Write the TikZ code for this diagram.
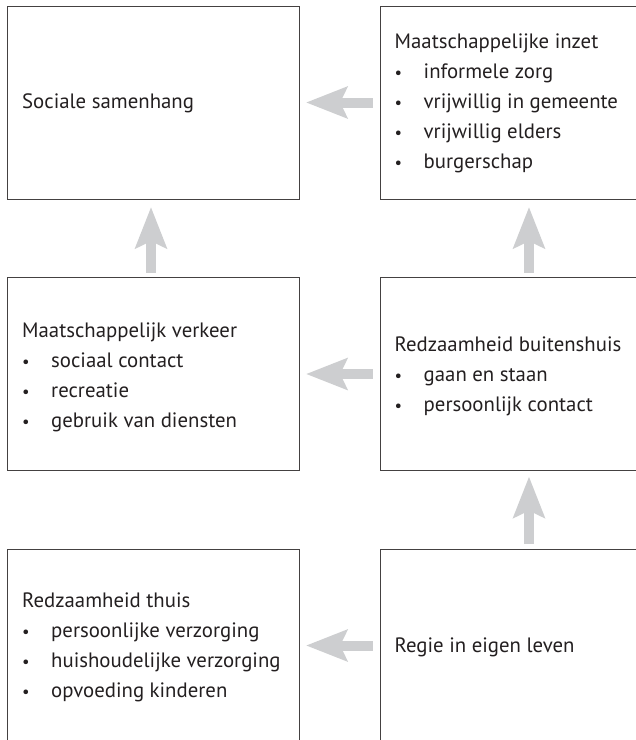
\documentclass[tikz,border=0pt]{standalone}
\usepackage{fontspec}
\usepackage{graphicx}
\setmainfont{PT Sans}
\usetikzlibrary{arrows.meta}
\definecolor{arrowgray}{RGB}{205,206,208}
\definecolor{ink}{RGB}{35,31,32}
\newcommand{\bitem}[1]{\makebox[29pt][l]{\scalebox{0.8}{\textbullet}}#1}
\begin{document}
\begin{tikzpicture}[x=1pt,y=-1pt,
  box/.style={draw=ink!85, line width=0.9pt, minimum width=292pt, minimum height=193pt, inner sep=0pt, outer sep=0pt, anchor=north west},
  txt/.style={anchor=west, align=left, inner sep=0pt, text=ink, font=\fontsize{20.8}{30}\selectfont},
  arr/.style={draw=arrowgray, line width=10pt, -{Stealth[length=41pt,width=31pt,inset=7pt]}}]
\useasboundingbox (0,0) rectangle (636,740);
\clip (0,0) rectangle (636,740);
\node[box] (A) at (7,6) {};
\node[box] (B) at (380.5,6) {};
\node[box] (C) at (7,277.5) {};
\node[box] (D) at (380.5,277.5) {};
\node[box] (E) at (7,549) {};
\node[box] (F) at (380.5,549) {};
\node[txt] (At) at ([xshift=15pt,yshift=-1pt]A.west) {Sociale samenhang};
\node[txt] (Bt) at ([xshift=14pt,yshift=-1pt]B.west) {Maatschappelijke inzet\\\bitem{informele zorg}\\\bitem{vrijwillig in gemeente}\\\bitem{vrijwillig elders}\\\bitem{burgerschap}};
\node[txt] (Ct) at ([xshift=15pt,yshift=-3pt]C.west) {Maatschappelijk verkeer\\\bitem{sociaal contact}\\\bitem{recreatie}\\\bitem{gebruik van diensten}};
\node[txt] (Dt) at ([xshift=14pt,yshift=-2pt]D.west) {Redzaamheid buitenshuis\\\bitem{gaan en staan}\\\bitem{persoonlijk contact}};
\node[txt] (Et) at ([xshift=15pt,yshift=-2pt]E.west) {Redzaamheid thuis\\\bitem{persoonlijke verzorging}\\\bitem{huishoudelijke verzorging}\\\bitem{opvoeding kinderen}};
\node[txt] (Ft) at ([xshift=14pt,yshift=-2pt]F.west) {Regie in eigen leven};
\coordinate (cA) at (A.south -| 151,0);
\coordinate (cC) at (C.north -| 151,0);
\coordinate (cB) at (B.south -| 529,0);
\coordinate (cD1) at (D.north -| 529,0);
\coordinate (cD2) at (D.south -| 529,0);
\coordinate (cF) at (F.north -| 529,0);
\draw[arr, shorten <=8pt, shorten >=7pt] (B.west) -- (A.east);
\draw[arr, shorten <=8pt, shorten >=7pt] (D.west) -- (C.east);
\draw[arr, shorten <=8pt, shorten >=7pt] (F.west) -- (E.east);
\draw[arr, shorten <=5pt, shorten >=8pt] (cC) -- (cA);
\draw[arr, shorten <=5pt, shorten >=8pt] (cD1) -- (cB);
\draw[arr, shorten <=5pt, shorten >=6pt] (cF) -- (cD2);
\end{tikzpicture}
\end{document}
